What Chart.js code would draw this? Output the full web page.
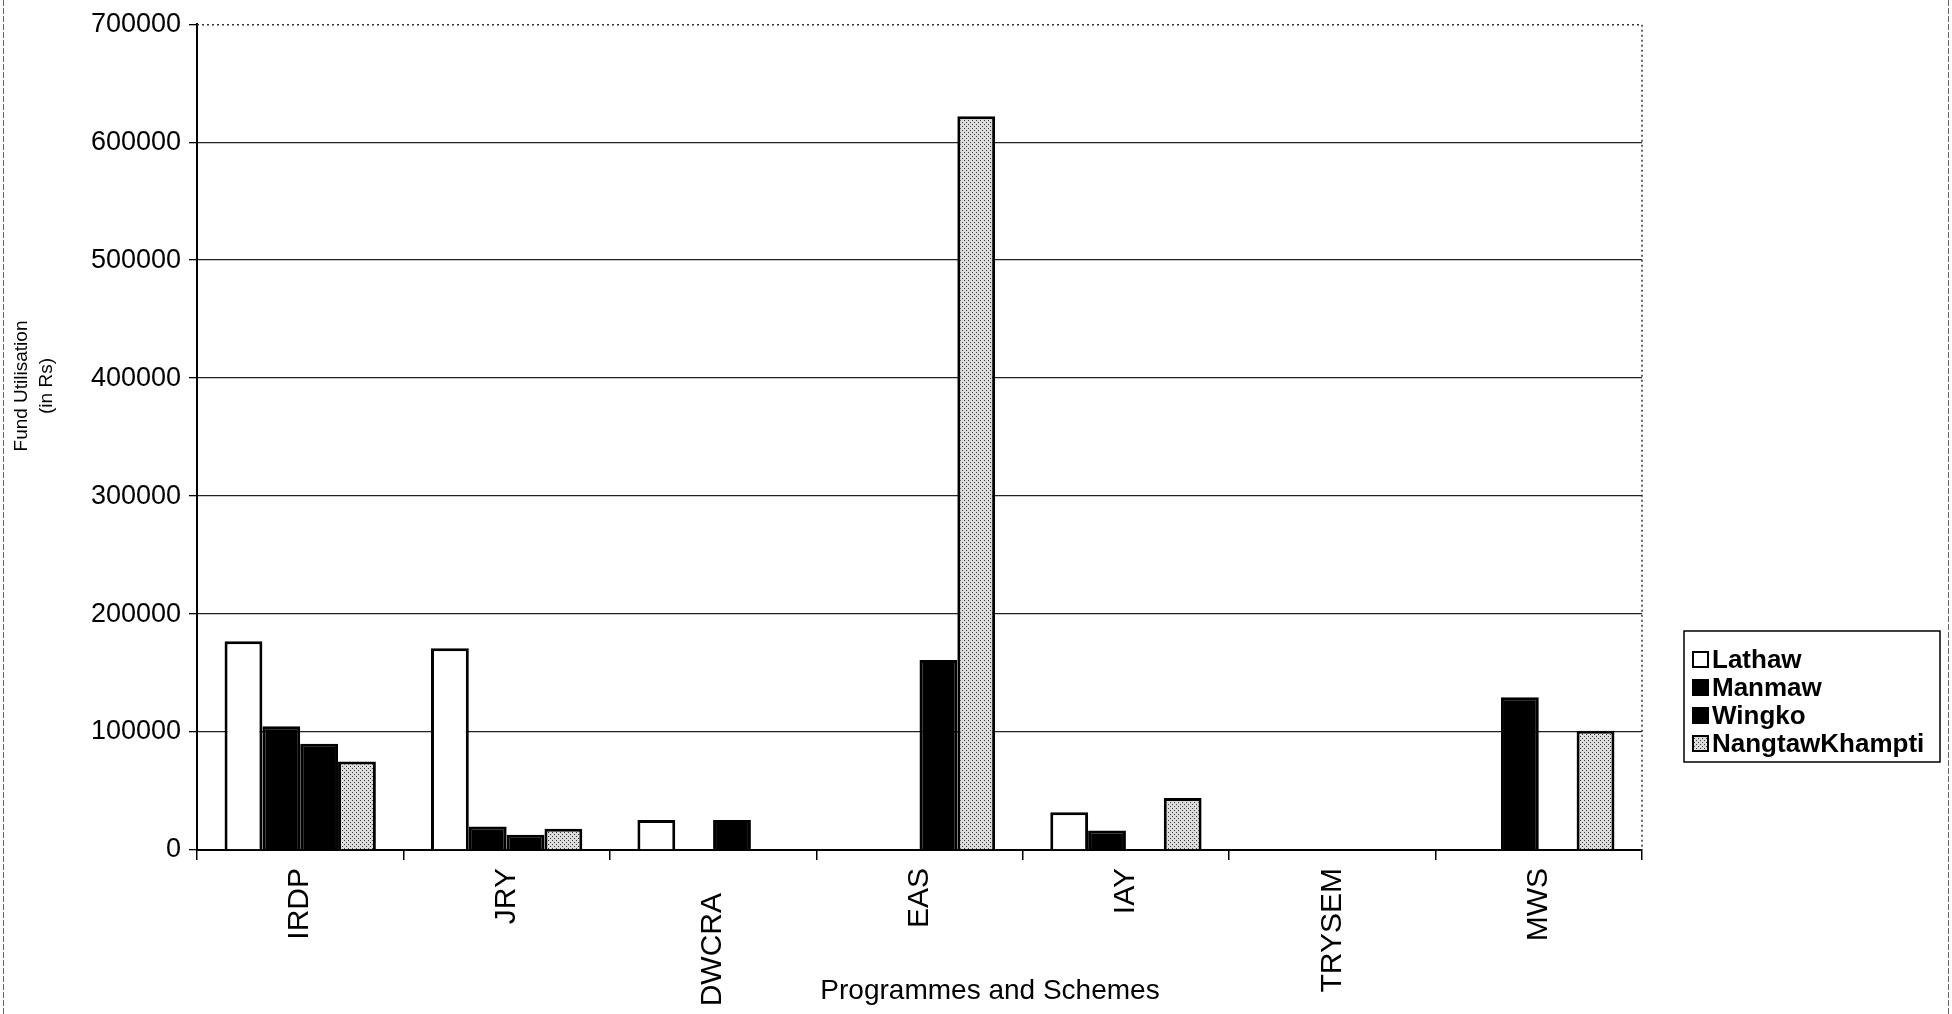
<!DOCTYPE html>
<html>
<head>
<meta charset="utf-8">
<title>Fund Utilisation</title>
<script src="https://cdn.jsdelivr.net/npm/chart.js@4.4.1/dist/chart.umd.min.js"></script>
<style>
  body { margin: 0; background: #fff; }
  #wrap { width: 1952px; height: 1014px; }
</style>
</head>
<body>
<div id="wrap"><canvas id="fundChart" width="1952" height="1014"></canvas></div>
<script>
// data
const categories = ['IRDP', 'JRY', 'DWCRA', 'EAS', 'IAY', 'TRYSEM', 'MWS'];
const seriesNames = ['Lathaw', 'Manmaw', 'Wingko', 'NangtawKhampti'];
const lathaw = [177000, 171000, 25500, 0, 32000, 0, 0];
const manmaw = [105000, 20000, 0, 0, 16500, 0, 129500];
const wingko = [90000, 13000, 25500, 161000, 0, 0, 0];
const nangtaw = [75000, 18000, 0, 622000, 44000, 0, 101000];
const yTicks = [0, 100000, 200000, 300000, 400000, 500000, 600000, 700000];

const FONT = '"Liberation Sans", Arial, sans-serif';

// grey dotted fill for the last series
function dotPattern() {
  const c = document.createElement('canvas');
  c.width = 4; c.height = 4;
  const g = c.getContext('2d');
  g.fillStyle = '#dcdcdc';
  g.fillRect(0, 0, 4, 4);
  g.fillStyle = '#3a3a3a';
  g.fillRect(0, 0, 1, 1);
  g.fillRect(2, 2, 1, 1);
  return g.createPattern(c, 'repeat');
}
const dots = dotPattern();
const fills = ['#ffffff', '#000000', '#000000', dots];

// plot border, axis titles and legend box
const extras = {
  id: 'extras',
  afterDraw(chart) {
    const ctx = chart.ctx;
    const a = chart.chartArea;
    ctx.save();
    ctx.strokeStyle = '#333';
    ctx.lineWidth = 1.5;
    ctx.setLineDash([2, 3]);
    ctx.beginPath();
    ctx.moveTo(a.left, a.top + 0.5);
    ctx.lineTo(a.right, a.top + 0.5);
    ctx.lineTo(a.right, a.bottom);
    ctx.stroke();

    // outer frame sides
    ctx.setLineDash([6, 2]);
    ctx.lineWidth = 1;
    ctx.strokeStyle = '#666';
    ctx.beginPath();
    ctx.moveTo(3.5, 0); ctx.lineTo(3.5, 1014);
    ctx.moveTo(1948.5, 0); ctx.lineTo(1948.5, 1014);
    ctx.stroke();
    ctx.setLineDash([]);

    // axis titles
    ctx.fillStyle = '#000';
    ctx.textAlign = 'center';
    ctx.textBaseline = 'middle';
    ctx.font = '28px ' + FONT;
    ctx.fillText('Programmes and Schemes', 990, 991);
    ctx.save();
    ctx.translate(22, 386);
    ctx.rotate(-Math.PI / 2);
    ctx.font = '19px ' + FONT;
    ctx.fillText('Fund Utilisation', 0, 0);
    ctx.fillText('(in Rs)', 0, 25);
    ctx.restore();

    // legend
    ctx.strokeStyle = '#000';
    ctx.lineWidth = 1.5;
    ctx.strokeRect(1684, 631, 256, 131);
    ctx.textAlign = 'left';
    ctx.font = 'bold 26px ' + FONT;
    chart.data.datasets.forEach((ds, i) => {
      const y = 660 + i * 28;
      ctx.fillStyle = ds.backgroundColor;
      ctx.fillRect(1693, y - 8, 15, 15);
      ctx.lineWidth = 2;
      ctx.strokeRect(1693, y - 8, 15, 15);
      ctx.fillStyle = '#000';
      ctx.fillText(ds.label, 1712, y + 1);
    });
    ctx.restore();
  }
};

const ctx = document.getElementById('fundChart').getContext('2d');
const fundChart = new Chart(ctx, {
  type: 'bar',
  data: {
    labels: categories,
    datasets: [lathaw, manmaw, wingko, nangtaw].map((vals, i) => ({
      label: seriesNames[i],
      data: vals,
      backgroundColor: fills[i],
      borderColor: '#000',
      borderWidth: 3,
      categoryPercentage: 0.733,
      barPercentage: 1.0
    }))
  },
  options: {
    responsive: false,
    animation: false,
    layout: { padding: { top: 20, right: 310, bottom: 0, left: 0 } },
    plugins: {
      legend: { display: false },
      tooltip: { enabled: false }
    },
    scales: {
      x: {
        offset: true,
        grid: { offset: true, drawOnChartArea: false, drawTicks: true, tickLength: 10, color: '#000', lineWidth: 1.5 },
        border: { color: '#000', width: 2 },
        ticks: {
          minRotation: 90, maxRotation: 90, padding: 8,
          color: '#000', font: { family: FONT, size: 30 },
          // DWCRA sits a little lower than the others in the original
          callback: (v, i) => categories[i] === 'DWCRA' ? categories[i] + '   ' : categories[i]
        },
        afterFit(scale) { scale.height = 164; }
      },
      y: {
        min: 0,
        max: 700000,
        afterBuildTicks(scale) { scale.ticks = yTicks.map(v => ({ value: v })); },
        grid: {
          color: c => (c.tick && c.tick.value === 700000) ? 'rgba(0,0,0,0)' : '#222',
          tickColor: '#000',
          lineWidth: 1.3,
          tickLength: 8
        },
        border: { color: '#000', width: 2 },
        ticks: {
          padding: 8,
          color: '#000',
          font: { family: FONT, size: 27 },
          callback: v => String(v)
        },
        afterFit(scale) { scale.width = 197; }
      }
    }
  },
  plugins: [extras]
});
</script>
</body>
</html>
